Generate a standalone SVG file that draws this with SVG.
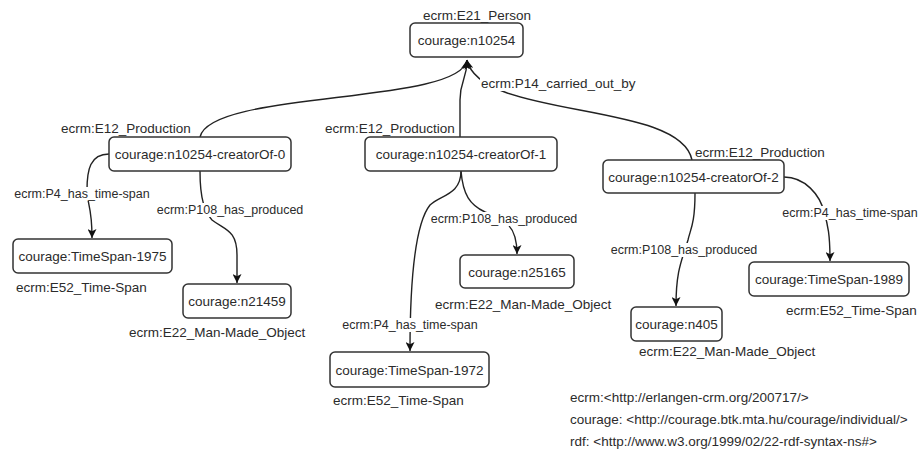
<svg xmlns="http://www.w3.org/2000/svg" width="921" height="450" viewBox="0 0 921 450">
<style>
text{font-family:"Liberation Sans",Arial,sans-serif;fill:#2b2b2b}
.n{font-size:13.5px;text-anchor:middle}
.t{font-size:13.5px}
.e{font-size:12.5px;text-anchor:middle}
.bg{fill:#fff}
.box{fill:#fff;stroke:#333;stroke-width:1.5}
.c{fill:none;stroke:#222;stroke-width:1.4}
</style>
<defs>
<marker id="ah" viewBox="0 0 10 10" refX="10" refY="5" markerWidth="9" markerHeight="9" markerUnits="userSpaceOnUse" orient="auto">
<path d="M0,0 L10,5 L0,10 L2.5,5 Z" fill="#111"/>
</marker>
</defs>
<g id="connectors">
<path class="c" d="M200,137 C210,90 460,105 467,60" marker-end="url(#ah)"/>
<path class="c" d="M460,137 L460,100 C460,80 467,80 467,60" marker-end="url(#ah)"/>
<path class="c" d="M692,160 C680,100 480,120 467,60" marker-end="url(#ah)"/>
<path class="c" d="M109,154 C90,154 87,170 87,190 C87,205 92,205 92,238" marker-end="url(#ah)"/>
<path class="c" d="M200,171 C200,200 205,212 212,220 C225,230 237,230 237,255 L237,283" marker-end="url(#ah)"/>
<path class="c" d="M461,171 C461,195 440,195 430,205 C418,220 410,260 410,351" marker-end="url(#ah)"/>
<path class="c" d="M461,171 C463,195 470,205 485,212 C505,220 517,225 517,254" marker-end="url(#ah)"/>
<path class="c" d="M695,193 C695,225 690,230 688,240 C682,260 676,270 676,306" marker-end="url(#ah)"/>
<path class="c" d="M784,177 C805,177 820,195 824,212 C828,225 830,235 830,261" marker-end="url(#ah)"/>
<rect class="bg" x="480" y="76" width="155" height="15"/>
<text class="t" x="481" y="88">ecrm:P14_carried_out_by</text>
<rect class="bg" x="15" y="187" width="135" height="14"/>
<text class="e" x="82" y="198">ecrm:P4_has_time-span</text>
<rect class="bg" x="157" y="203" width="146" height="14"/>
<text class="e" x="230" y="214">ecrm:P108_has_produced</text>
<rect class="bg" x="431" y="212" width="146" height="14"/>
<text class="e" x="504" y="223">ecrm:P108_has_produced</text>
<rect class="bg" x="343" y="318" width="135" height="14"/>
<text class="e" x="410" y="329">ecrm:P4_has_time-span</text>
<rect class="bg" x="611" y="243" width="146" height="14"/>
<text class="e" x="684" y="254">ecrm:P108_has_produced</text>
<rect class="bg" x="783" y="206" width="135" height="14"/>
<text class="e" x="850" y="217">ecrm:P4_has_time-span</text>
</g>
<g id="n10254">
<text class="t" x="423" y="20">ecrm:E21_Person</text>
<rect class="box" x="410" y="23" width="113" height="34" rx="5"/>
<text class="n" x="466.5" y="45">courage:n10254</text>
</g>
<g id="creatorOf-0">
<text class="t" x="61" y="133">ecrm:E12_Production</text>
<rect class="box" x="109" y="137" width="182" height="34" rx="5"/>
<text class="n" x="200" y="159">courage:n10254-creatorOf-0</text>
</g>
<g id="creatorOf-1">
<text class="t" x="325" y="133">ecrm:E12_Production</text>
<rect class="box" x="365" y="137" width="192" height="34" rx="5"/>
<text class="n" x="461" y="159">courage:n10254-creatorOf-1</text>
</g>
<g id="creatorOf-2">
<text class="t" x="695" y="157">ecrm:E12_Production</text>
<rect class="box" x="603" y="160" width="181" height="33" rx="5"/>
<text class="n" x="693.5" y="181.5">courage:n10254-creatorOf-2</text>
</g>
<g id="TimeSpan-1975">
<rect class="box" x="13" y="239" width="159" height="34" rx="5"/>
<text class="n" x="92.5" y="261">courage:TimeSpan-1975</text>
<text class="t" x="16" y="292">ecrm:E52_Time-Span</text>
</g>
<g id="n21459">
<rect class="box" x="183" y="284" width="108" height="34" rx="5"/>
<text class="n" x="237" y="306">courage:n21459</text>
<text class="t" x="129" y="337">ecrm:E22_Man-Made_Object</text>
</g>
<g id="TimeSpan-1972">
<rect class="box" x="330" y="352" width="159" height="35" rx="5"/>
<text class="n" x="409.5" y="374.5">courage:TimeSpan-1972</text>
<text class="t" x="333" y="405">ecrm:E52_Time-Span</text>
</g>
<g id="n25165">
<rect class="box" x="460" y="255" width="114" height="33" rx="5"/>
<text class="n" x="517" y="276.5">courage:n25165</text>
<text class="t" x="435" y="309">ecrm:E22_Man-Made_Object</text>
</g>
<g id="n405">
<rect class="box" x="631" y="307" width="91" height="34" rx="5"/>
<text class="n" x="676.5" y="329">courage:n405</text>
<text class="t" x="639" y="356">ecrm:E22_Man-Made_Object</text>
</g>
<g id="TimeSpan-1989">
<rect class="box" x="749" y="262" width="160" height="34" rx="5"/>
<text class="n" x="829" y="284">courage:TimeSpan-1989</text>
<text class="t" x="786" y="315">ecrm:E52_Time-Span</text>
</g>
<g id="namespaces">
<text class="t" x="570" y="402">ecrm:&lt;http://erlangen-crm.org/200717/&gt;</text>
<text class="t" x="570" y="424">courage: &lt;http://courage.btk.mta.hu/courage/individual/&gt;</text>
<text class="t" x="570" y="446">rdf: &lt;http://www.w3.org/1999/02/22-rdf-syntax-ns#&gt;</text>
</g>
</svg>
